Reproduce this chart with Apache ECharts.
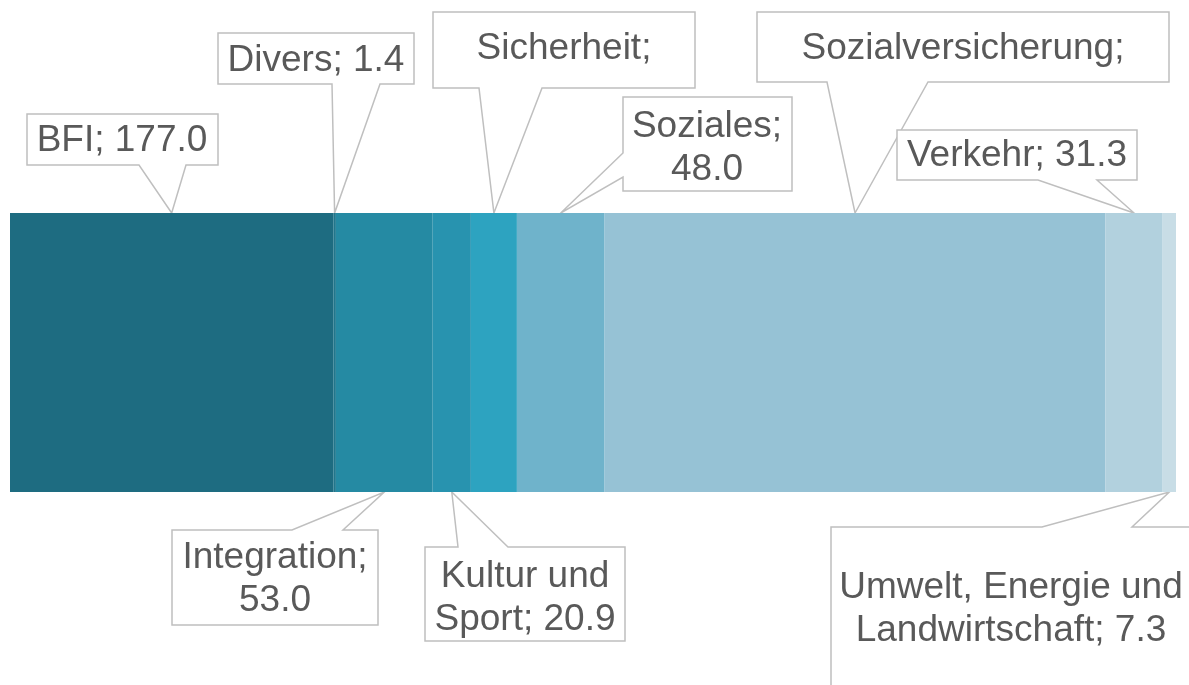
<!DOCTYPE html>
<html>
<head>
<meta charset="utf-8">
<script src="https://cdn.jsdelivr.net/npm/echarts@6/dist/echarts.min.js"></script>
<style>
  html, body { margin: 0; padding: 0; background: #fff; }
  #main { width: 1189px; height: 685px; }
</style>
</head>
<body>
<div id="main"></div>
<script>
// Daten (Mio.)
const names = ['BFI', 'Divers', 'Integration', 'Kultur und Sport', 'Sicherheit', 'Soziales',
               'Sozialversicherung', 'Verkehr', 'Umwelt, Energie und Landwirtschaft'];
const values = [177.0, 1.4, 53.0, 20.9, 25.2, 48.0, 274.2, 31.3, 7.3];

const colors = ['#1e6c81', '#21768c', '#258aa3', '#2893af', '#2da3c0', '#6fb3cb',
                '#96c2d5', '#b2d1de', '#c8dde6'];

// Lage der Beschriftungskästen: box [x0,y0,x1,y1], Spitze an Seite side,
// br = Anzahl Wörter in der ersten Zeile, lines = sichtbare Zeilen
const callouts = [
    { i: 0, box: [27, 114, 218, 165], side: 'bottom', w: [139, 186], t: [122, 141], br: 9, lines: 1 },
    { i: 1, box: [218, 33, 414, 84], side: 'bottom', w: [332, 380], t: [316, 61], br: 9, lines: 1 },
    { i: 4, box: [433, 12, 695, 88], side: 'bottom', w: [479, 542], t: [564, 49], br: 1, lines: 1 },
    { i: 5, box: [623, 97, 792, 191], side: 'left', w: [153, 177], t: [707, 148], br: 1, lines: 2 },
    { i: 6, box: [757, 12, 1169, 82], side: 'bottom', w: [827, 928], t: [963, 49], br: 1, lines: 1 },
    { i: 7, box: [897, 130, 1137, 180], side: 'bottom', w: [1038, 1097], t: [1017, 156], br: 9, lines: 1 },
    { i: 2, box: [172, 530, 378, 625], side: 'top', w: [292, 343], t: [275, 579], br: 1, lines: 2 },
    { i: 3, box: [425, 547, 625, 641], side: 'top', w: [458, 508], t: [525, 598], br: 2, lines: 2 },
    { i: 8, box: [831, 527, 1260, 760], side: 'top', w: [1042, 1132], t: [1011, 609], br: 3, lines: 2 }
];

const total = values.reduce((a, b) => a + b, 0);

let chart = echarts.init(document.getElementById('main'));

let series = [];
for (let i = 0; i < names.length; i++) {
    series.push({
        name: names[i],
        type: 'bar',
        stack: 'all',
        barWidth: '100%',
        itemStyle: { color: colors[i] },
        data: [values[i]]
    });
}

chart.setOption({
    animation: false,
    grid: { left: 10, right: 13, top: 213, bottom: 193 },
    xAxis: { type: 'value', min: 0, max: total, show: false },
    yAxis: { type: 'category', data: [''], show: false },
    series: series
});

// Beschriftungen mit Spitze zum Balken
let starts = [];
let acc = 0;
for (let i = 0; i < values.length; i++) {
    starts.push(acc);
    acc += values[i];
}
let cy = chart.convertToPixel({ yAxisIndex: 0 }, 0);
let half = (685 - 213 - 193) / 2;

let graphics = [];
callouts.forEach(c => {
    let px = chart.convertToPixel({ xAxisIndex: 0 }, starts[c.i] + values[c.i] / 2);
    let [x0, y0, x1, y1] = c.box;
    let pts;
    if (c.side === 'bottom') {
        let py = cy - half;
        pts = [[x0, y0], [x1, y0], [x1, y1], [c.w[1], y1], [px, py], [c.w[0], y1], [x0, y1]];
    } else if (c.side === 'top') {
        let py = cy + half;
        pts = [[x0, y0], [c.w[0], y0], [px, py], [c.w[1], y0], [x1, y0], [x1, y1], [x0, y1]];
    } else {
        let py = cy - half;
        pts = [[x0, y0], [x1, y0], [x1, y1], [x0, y1], [x0, c.w[1]], [px, py], [x0, c.w[0]]];
    }
    graphics.push({
        type: 'polygon',
        shape: { points: pts },
        style: { fill: '#fff', stroke: '#bfbfbf', lineWidth: 1.5 }
    });
    let words = (names[c.i] + '; ' + values[c.i].toFixed(1)).split(' ');
    let rows = [words.slice(0, c.br).join(' '), words.slice(c.br).join(' ')].filter(s => s);
    graphics.push({
        type: 'text',
        x: c.t[0],
        y: c.t[1],
        style: {
            text: rows.slice(0, c.lines).join('\n'),
            font: '37px "Liberation Sans", Arial, sans-serif',
            fill: '#595959',
            align: 'center',
            verticalAlign: 'middle',
            lineHeight: 43
        }
    });
});

chart.setOption({ graphic: graphics });
</script>
</body>
</html>
